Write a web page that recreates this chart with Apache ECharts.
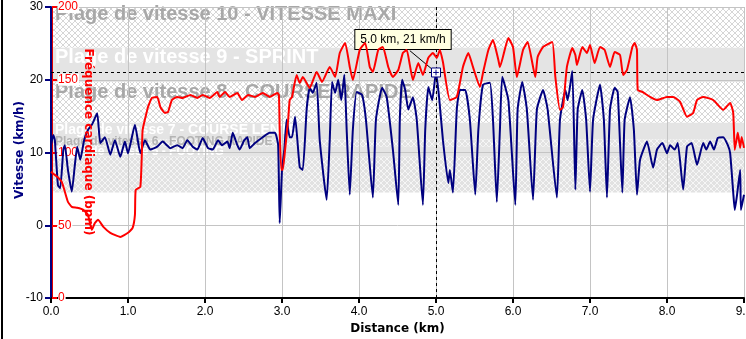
<!DOCTYPE html>
<html><head><meta charset="utf-8">
<script src="https://cdn.jsdelivr.net/npm/echarts@6/dist/echarts.min.js"></script>
<style>html,body{margin:0;padding:0;background:#fff}#c{width:746px;height:339px}</style>
</head><body><div id="c"></div>
<script>
// ---------------- DATA ----------------
const speedKm = [0,0.03,0.05,0.09,0.12,0.16,0.18,0.22,0.27,0.31,
0.34,0.38,0.43,0.48,0.53,0.60,0.64,0.70,0.77,0.83,
0.90,0.96,1.00,1.09,1.16,1.22,1.29,1.38,1.45,1.55,
1.64,1.71,1.77,1.84,1.90,1.97,2.04,2.10,2.17,2.22,
2.29,2.32,2.36,2.42,2.45,2.51,2.55,2.58,2.65,2.75,
2.84,2.91,2.95,2.97,3.00,3.03,3.06,3.10,3.13,3.17,
3.23,3.27,3.32,3.36,3.40,3.45,3.49,3.58,3.62,3.65,
3.69,3.73,3.77,3.81,3.84,3.88,3.92,3.97,4.04,4.09,
4.18,4.22,4.30,4.36,4.44,4.51,4.53,4.56,4.60,4.64,
4.70,4.75,4.83,4.86,4.90,4.95,5.00,5.04,5.09,5.16,
5.18,5.22,5.27,5.31,5.38,5.44,5.51,5.55,5.61,5.70,
5.74,5.79,5.83,5.86,5.94,6.03,6.06,6.12,6.18,6.26,
6.31,6.39,6.45,6.57,6.61,6.68,6.71,6.77,6.81,6.84,
6.90,6.95,7.00,7.04,7.13,7.18,7.22,7.26,7.32,7.36,
7.42,7.45,7.52,7.57,7.61,7.65,7.74,7.82,7.87,7.94,
8.00,8.04,8.10,8.14,8.21,8.26,8.32,8.39,8.47,8.51,
8.56,8.61,8.66,8.73,8.79,8.82,8.86,8.88,8.91,8.95,
8.96,9.00];
const speedKmh = [11.0,12.4,11.7,5.5,5.1,10.4,11.0,7.6,4.6,8.3,
10.8,9.0,11.7,13.1,13.8,15.4,11.3,12.1,9.7,11.7,
9.4,11.5,9.9,13.8,9.9,11.7,10.4,10.8,11.5,10.6,
11.0,10.6,11.7,10.8,10.4,12.0,10.6,10.4,11.7,11.0,
11.5,10.6,12.7,11.0,10.4,11.7,12.1,10.6,11.3,12.1,
12.7,12.7,11.0,0.3,7.6,10.4,14.5,12.1,12.1,14.9,
8.0,7.6,15.9,18.9,18.2,19.6,11.7,3.5,11.7,19.7,
18.2,20.0,17.2,20.7,13.1,4.2,13.1,18.3,17.9,14.5,
3.8,14.5,18.9,17.6,10.4,2.8,14.5,20.0,18.6,15.9,
17.6,14.5,2.8,13.1,19.0,17.2,21.0,17.6,11.7,5.8,
7.6,4.5,15.9,18.6,18.6,14.5,4.2,13.1,19.3,19.6,
14.5,3.2,13.1,20.4,17.2,2.8,15.9,19.7,15.9,3.5,
15.9,18.6,15.9,3.8,14.5,18.6,17.2,21.2,4.9,15.9,
18.6,14.5,4.6,14.5,19.3,14.5,3.8,15.9,18.9,18.3,
4.5,14.5,17.6,13.1,4.2,9.0,11.5,7.9,10.4,11.3,
9.9,11.0,10.4,11.3,4.9,10.8,11.3,8.3,11.3,10.4,
11.5,10.4,12.0,12.1,11.0,9.9,4.5,2.1,4.2,7.6,
2.1,4.2];
const hrKm = [0,0.08,0.14,0.18,0.22,0.27,0.34,0.42,0.48,0.53,
0.57,0.61,0.68,0.77,0.90,1.00,1.06,1.09,1.10,1.16,
1.18,1.19,1.25,1.26,1.31,1.38,1.42,1.48,1.52,1.57,
1.64,1.71,1.81,1.90,1.97,2.06,2.16,2.19,2.26,2.32,
2.42,2.48,2.56,2.65,2.75,2.84,2.94,2.96,2.97,2.99,
3.01,3.04,3.08,3.10,3.13,3.19,3.23,3.27,3.36,3.45,
3.52,3.62,3.69,3.75,3.82,3.88,3.92,4.01,4.08,4.14,
4.18,4.25,4.31,4.38,4.44,4.51,4.57,4.62,4.66,4.70,
4.77,4.83,4.90,4.96,5.01,5.05,5.09,5.18,5.27,5.35,
5.42,5.48,5.57,5.61,5.68,5.74,5.81,5.83,5.94,6.00,
6.05,6.13,6.19,6.29,6.32,6.39,6.51,6.55,6.61,6.65,
6.70,6.77,6.81,6.83,6.90,6.96,7.00,7.06,7.13,7.19,
7.26,7.32,7.39,7.43,7.48,7.55,7.58,7.61,7.62,7.68,
7.78,7.87,8.00,8.08,8.17,8.26,8.34,8.39,8.47,8.60,
8.73,8.82,8.86,8.88,8.91,8.92,8.95,8.97,9.00];
const hrBpm = [86.7,83.3,79.8,73.0,66.1,62.6,62.0,60.6,57.1,46.8,
51.6,53.7,48.9,44.8,42.0,44.8,48.2,57.1,74.3,76.4,
99.7,115.5,129.3,131.3,137.5,138.2,131.3,127.2,127.9,136.1,
138.2,137.5,139.6,137.5,139.6,137.5,141.6,138.2,141.6,138.2,
140.9,136.1,139.6,138.2,140.9,138.2,140.9,139.6,115.5,88.1,
88.1,101.8,122.4,136.1,138.2,153.3,147.8,151.9,144.4,155.4,
148.5,158.8,151.9,168.4,175.3,158.8,149.8,170.5,175.3,158.8,
155.4,170.5,172.5,158.8,151.9,156.7,168.4,170.5,160.2,149.8,
161.5,153.3,165.0,168.4,165.0,170.5,162.2,136.1,138.2,158.8,
168.4,158.8,145.0,154.7,170.5,177.3,163.6,158.8,178.7,172.5,
151.9,170.5,176.0,151.9,165.7,172.5,176.0,151.9,129.3,131.3,
158.8,171.8,167.0,160.2,172.5,168.4,173.9,161.5,172.5,170.5,
158.8,169.0,167.0,153.3,156.7,172.5,175.3,170.5,143.0,141.6,
138.2,136.1,138.2,138.2,134.8,124.5,127.2,136.1,138.2,136.1,
129.3,134.1,127.2,101.8,110.7,113.5,103.2,110.7,103.2];
const bandTitles = ['Plage de vitesse 10 - VITESSE MAXI','Plage de vitesse 9 - SPRINT','Plage de vitesse 8 - COURSE RAPIDE','Plage de vitesse 7 - COURSE LENTE','Plage de vitesse 6 - FOOTING RAPIDE','Plage de vitesse 5 - FOOTING',''];
const bandLow  = [24.4,19.7,14.1,11.8,10.8,9.4,4.5];
const bandHigh = [30,24.4,19.7,14.1,11.8,10.8,9.4];
const tipPoint = [5.0, 21];
const xTicks = {min:0, max:9, step:1};
const speedTicks = {min:-10, max:30, step:10};
const hrTicks = {min:0, max:200, step:50};
const speedAxisTitle = 'Vitesse (km/h)';
const hrAxisTitle = 'Fréquence cardiaque (bpm)';
const xAxisTitle = 'Distance (km)';

// ---------------- STYLES ----------------
function pattern(base, line){
  const c=document.createElement('canvas'); c.width=6; c.height=6;
  const g=c.getContext('2d'); g.fillStyle=base; g.fillRect(0,0,6,6);
  g.fillStyle=line;
  for(let i=0;i<6;i++){ g.fillRect(i,i,1,1); g.fillRect(5-i,i,1,1); }
  return {image:c, repeat:'repeat'};
}
const hatchW = pattern('#ffffff','#d6d6d6');
const hatchG = pattern('#e2e2e2','#f6f6f6');
const solidG = '#e4e4e4';
const bandStyle = [
  {fill:hatchW, color:'#a8a8a8', size:20, dy:-3},
  {fill:solidG, color:'#ffffff', size:20, dy:0},
  {fill:hatchW, color:'#a8a8a8', size:20, dy:1},
  {fill:solidG, color:'#ffffff', size:14, dy:0},
  {fill:hatchG, color:'#b4b4b4', size:12, dy:-4},
  {fill:solidG, color:'#ffffff', size:12, dy:-1},
  {fill:hatchG, color:'#ffffff', size:12, dy:0}
];
const tipLeaderOffset = [-0.34, 3.0];
const FONT = 'Liberation Sans, Arial, sans-serif';
const NFONT = 'DejaVu Sans, Verdana, sans-serif';

const bands = bandTitles.map((t,i)=>[
  {yAxis:bandHigh[i], name:t,
   itemStyle:{color:bandStyle[i].fill},
   label:{show:!!t, formatter:t, position:[4,bandStyle[i].dy], color:bandStyle[i].color,
     fontSize:bandStyle[i].size, fontWeight:'bold', fontFamily:FONT}},
  {yAxis:bandLow[i]}
]);

const chart = echarts.init(document.getElementById('c'), null, {renderer:'canvas'});
chart.setOption({
  animation:false,
  backgroundColor:'#ffffff',
  grid:{left:51, right:2, top:7, bottom:41, containLabel:false, outerBoundsMode:'none'},
  graphic:[
    {type:'rect', left:1, top:0, z:100, shape:{width:2, height:339}, style:{fill:'#000'}},
    {type:'text', x:20, y:150, rotation:Math.PI/2, z:100,
     style:{text:speedAxisTitle, fill:'#000080', font:'bold 12px "DejaVu Sans", Verdana, sans-serif', align:'center', verticalAlign:'middle'}},
    {type:'text', x:88, y:142, rotation:-Math.PI/2, z:100,
     style:{text:hrAxisTitle, fill:'#ff0000', font:'bold 12px "DejaVu Sans", Verdana, sans-serif', align:'center', verticalAlign:'middle'}}
  ],
  xAxis:{type:'value', min:xTicks.min, max:xTicks.max, interval:xTicks.step,
    axisLine:{show:true, onZero:false, lineStyle:{color:'#000', width:2}},
    axisTick:{show:true, length:5, lineStyle:{color:'#000', width:2}},
    axisLabel:{color:'#000', fontSize:12, fontFamily:FONT, margin:8, formatter:v=>v.toFixed(1)},
    splitLine:{show:true, lineStyle:{color:'#c4c4c4', width:1}},
    name:xAxisTitle, nameLocation:'middle', nameGap:25,
    nameTextStyle:{color:'#000', fontWeight:'bold', fontSize:12, fontFamily:NFONT}},
  yAxis:[
    {type:'value', min:speedTicks.min, max:speedTicks.max, interval:speedTicks.step, position:'left',
     axisLine:{show:true, onZero:false, lineStyle:{color:'#000080', width:2}},
     axisTick:{show:true, length:6, lineStyle:{color:'#000080', width:2}},
     axisLabel:{color:'#000', fontSize:12, fontFamily:FONT, margin:8},
     splitLine:{show:true, lineStyle:{color:'#c4c4c4', width:1}}},
    {type:'value', min:hrTicks.min, max:hrTicks.max, interval:hrTicks.step, position:'left', offset:-1,
     axisLine:{show:true, onZero:false, lineStyle:{color:'#e00000', width:1}},
     axisTick:{show:true, inside:true, length:5, lineStyle:{color:'#ff0000', width:2}},
     axisLabel:{inside:true, color:'#ff0000', fontSize:12, fontFamily:FONT, margin:6, backgroundColor:'#ffffff', padding:[0,1,0,0]},
     splitLine:{show:false}}
  ],
  series:[
    {type:'line', name:'bands', data:[], z:-1, silent:true,
     markArea:{silent:true, z:-1, data:bands}},
    {type:'line', name:'Vitesse', yAxisIndex:0, z:4,
     data:speedKm.map((k,i)=>[k,speedKmh[i]]),
     showSymbol:false, smooth:0.15, lineStyle:{color:'#000080', width:2}, itemStyle:{color:'#000080'},
     markLine:{silent:true, symbol:['none','none'], label:{show:false},
       data:[
         {xAxis:tipPoint[0], lineStyle:{color:'#000', type:[3,3], width:1}},
         {yAxis:tipPoint[1], lineStyle:{color:'#000', type:[3,3], width:1}},
         [{coord:[tipPoint[0]+tipLeaderOffset[0], tipPoint[1]+tipLeaderOffset[1]], lineStyle:{color:'#000', type:'solid', width:1}},
          {coord:tipPoint}]
       ]},
     markPoint:{silent:true, symbol:'path://M0,0L8,0L8,8L0,8Z M4,1.5L4,6.5 M1.5,4L6.5,4', symbolSize:9,
       itemStyle:{color:'#ffffff', borderColor:'#000080', borderWidth:1},
       label:{show:true, position:'inside', offset:[-33,-33],
         formatter: tipPoint[0].toFixed(1)+' km, '+tipPoint[1]+' km/h',
         backgroundColor:'#ffffe1', borderColor:'#000', borderWidth:1, padding:[4,5,3,5],
         color:'#000', fontSize:12, fontFamily:FONT},
       data:[{coord:tipPoint}]}},
    {type:'line', name:'FC', yAxisIndex:1, z:5,
     data:hrKm.map((k,i)=>[k,hrBpm[i]]),
     showSymbol:false, smooth:0.15, lineStyle:{color:'#ff0000', width:2}, itemStyle:{color:'#ff0000'}}
  ]
});
</script></body></html>
